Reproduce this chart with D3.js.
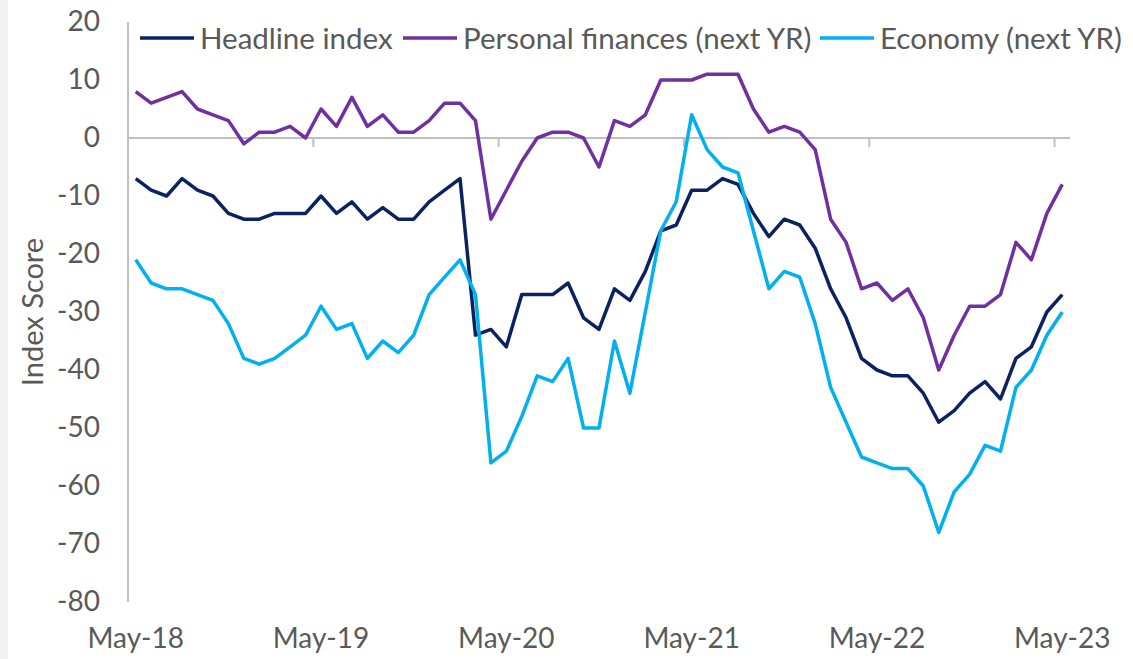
<!DOCTYPE html>
<html>
<head>
<meta charset="utf-8">
<script src="https://cdn.jsdelivr.net/npm/d3@7"></script>
<style>
  html, body { margin: 0; padding: 0; background: #fff; }
  body { width: 1133px; height: 659px; overflow: hidden; }
  #chart { position: relative; }
  text { font-family: Lato, "Open Sans", sans-serif; fill: #595959; }
</style>
</head>
<body>
<div id="chart"></div>
<script>
// monthly survey readings, May-18 .. May-23
const months = d3.utcMonth.range(new Date(Date.UTC(2018, 4, 1)), new Date(Date.UTC(2023, 5, 1)));
const tickLabels = ['May-18', 'May-19', 'May-20', 'May-21', 'May-22', 'May-23'];
const yTicks = [20, 10, 0, -10, -20, -30, -40, -50, -60, -70, -80];

const headline = [
  -7, -9, -10, -7, -9, -10, -13, -14, -14, -13, -13, -13, -10, -13, -11, -14, -12,
  -14, -14, -11, -9, -7, -34, -33, -36, -27, -27, -27, -25, -31, -33,
  -26, -28, -23, -16, -15, -9, -9, -7, -8, -13, -17, -14, -15, -19, -26, -31, -38,
  -40, -41, -41, -44, -49, -47, -44, -42, -45, -38, -36, -30, -27,
];
const personal = [
  8, 6, 7, 8, 5, 4, 3, -1, 1, 1, 2, 0, 5, 2, 7, 2, 4,
  1, 1, 3, 6, 6, 3, -14, -9, -4, 0, 1, 1, 0, -5,
  3, 2, 4, 10, 10, 10, 11, 11, 11, 5, 1, 2, 1, -2, -14, -18, -26,
  -25, -28, -26, -31, -40, -34, -29, -29, -27, -18, -21, -13, -8,
];
const economy = [
  -21, -25, -26, -26, -27, -28, -32, -38, -39, -38, -36, -34, -29, -33, -32, -38, -35,
  -37, -34, -27, -24, -21, -27, -56, -54, -48, -41, -42, -38, -50, -50,
  -35, -44, -30, -16, -11, 4, -2, -5, -6, -16, -26, -23, -24, -32, -43, -49, -55,
  -56, -57, -57, -60, -68, -61, -58, -53, -54, -43, -40, -34, -30,
];

const seriesNames = ['Headline index', 'Personal finances (next YR)', 'Economy (next YR)'];
const seriesColors = ['#0b2160', '#7030a0', '#00b0f0'];
const seriesValues = [headline, personal, economy];

const W = 1133;
const H = 659;
const margin = { top: 22, right: 63, bottom: 57, left: 128 };

const svg = d3.select('#chart').append('svg')
  .attr('width', W)
  .attr('height', H);

// light strip on the left edge
svg.append('rect')
  .attr('x', 0).attr('y', 0)
  .attr('width', 8).attr('height', H)
  .style('fill', '#f2f2f2');

const xScale = d3.scaleLinear()
  .domain([-0.5, months.length - 0.5])
  .range([margin.left, W - margin.right]);

const yScale = d3.scaleLinear()
  .domain([-80, 20])
  .range([H - margin.bottom, margin.top]);

// y axis line and labels
svg.append('line')
  .attr('x1', margin.left).attr('x2', margin.left)
  .attr('y1', yScale(20)).attr('y2', yScale(-80))
  .style('stroke', '#bfbfbf')
  .style('stroke-width', 2);

const yAxis = d3.axisLeft(yScale)
  .tickValues(yTicks)
  .tickSize(0)
  .tickPadding(28)
  .tickFormat(d => String(d));

svg.append('g')
  .attr('class', 'y axis')
  .attr('transform', `translate(${margin.left},0)`)
  .call(yAxis)
  .call(g => g.select('.domain').remove())
  .selectAll('text')
  .style('font-size', '28px')
  .style('fill', '#595959');

svg.append('text')
  .attr('transform', 'translate(43,312) rotate(-90)')
  .attr('text-anchor', 'middle')
  .style('font-size', '29px')
  .text('Index Score');

// zero line with yearly tick marks between categories
svg.append('line')
  .attr('x1', margin.left).attr('x2', W - margin.right)
  .attr('y1', yScale(0)).attr('y2', yScale(0))
  .style('stroke', '#bfbfbf')
  .style('stroke-width', 2);

const yearIdx = tickLabels.map((d, i) => i * 12);

svg.append('g')
  .selectAll('line')
  .data(yearIdx.slice(1))
  .enter()
  .append('line')
  .attr('x1', d => xScale(d - 0.5))
  .attr('x2', d => xScale(d - 0.5))
  .attr('y1', yScale(0))
  .attr('y2', yScale(0) + 9)
  .style('stroke', '#bfbfbf')
  .style('stroke-width', 2);

svg.append('g')
  .selectAll('text')
  .data(yearIdx)
  .enter()
  .append('text')
  .attr('x', d => xScale(d))
  .attr('y', 648)
  .attr('text-anchor', 'middle')
  .style('font-size', '28px')
  .text((d, i) => tickLabels[i]);

// series lines
const plotLine = d3.line()
  .x((d, i) => xScale(i))
  .y(d => yScale(d));

svg.append('g')
  .selectAll('path')
  .data(seriesValues)
  .enter()
  .append('path')
  .attr('d', plotLine)
  .style('fill', 'none')
  .style('stroke', (d, i) => seriesColors[i])
  .style('stroke-width', 3.5)
  .style('stroke-linejoin', 'round');

// legend
const legendX = [140, 403, 820];
const legend = svg.append('g')
  .selectAll('g')
  .data(seriesNames)
  .enter()
  .append('g')
  .attr('transform', (d, i) => `translate(${legendX[i]},38)`);

legend.append('line')
  .attr('x1', 0).attr('x2', 54)
  .attr('y1', 0).attr('y2', 0)
  .style('stroke', (d, i) => seriesColors[i])
  .style('stroke-width', 3.5);

legend.append('text')
  .attr('x', 60)
  .attr('y', 11)
  .style('font-size', '29.5px')
  .text(d => d);
</script>
</body>
</html>
